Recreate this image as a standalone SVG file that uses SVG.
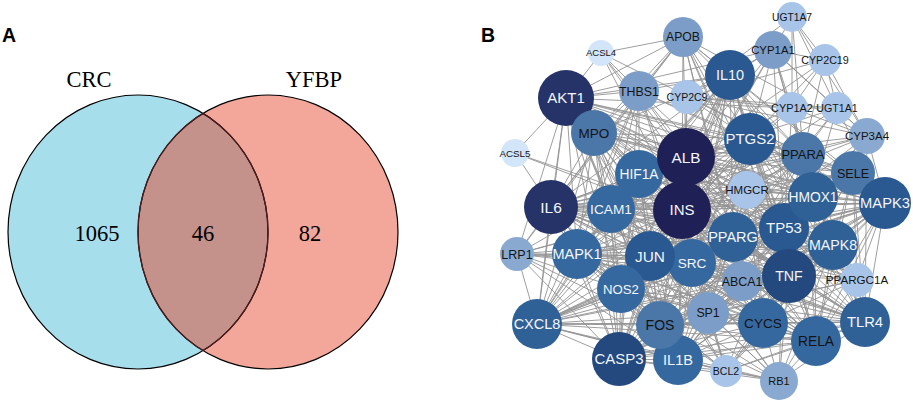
<svg xmlns="http://www.w3.org/2000/svg" width="913" height="401" viewBox="0 0 913 401">
<style>
.lbl{font-family:"Liberation Sans",Arial,sans-serif;font-weight:bold;font-size:19.5px;fill:#000}
.vt{font-family:"Liberation Serif","Times New Roman",serif;font-size:22.5px;fill:#000;text-anchor:middle}
.edges path{fill:none;stroke:#939393;stroke-width:0.9}
.nd text{font-family:"Liberation Sans",Arial,sans-serif;text-anchor:middle}
.n0{fill:#1f2056}.n1{fill:#263368}.n2{fill:#24497f}.n3{fill:#2a5890}.n4{fill:#2f6197}.n5{fill:#3668a0}.n6{fill:#4a76a8}.n7{fill:#7b9dc7}.n8{fill:#89a9d1}.n9{fill:#a8c5e9}.n10{fill:#d3e5f8}
.w{fill:#f3f5f9}.d{fill:#141414}
</style>
<defs>
<clipPath id="clipL"><ellipse cx="138" cy="232" rx="130" ry="137"/></clipPath>
<clipPath id="clipR"><ellipse cx="268" cy="232" rx="130" ry="137"/></clipPath>
</defs>
<rect width="913" height="401" fill="#ffffff"/>
<text class="lbl" x="2" y="42">A</text>
<text class="lbl" x="481" y="42">B</text>
<g id="venn">
<ellipse cx="138" cy="232" rx="130" ry="137" fill="#a7deeb"/>
<ellipse cx="268" cy="232" rx="130" ry="137" fill="#f3a79b"/>
<ellipse cx="268" cy="232" rx="130" ry="137" fill="#c4918b" clip-path="url(#clipL)"/>
<ellipse cx="138" cy="232" rx="130" ry="137" fill="none" stroke="#000" stroke-width="1.2"/>
<ellipse cx="268" cy="232" rx="130" ry="137" fill="none" stroke="#000" stroke-width="1.2"/>
<ellipse cx="138" cy="232" rx="130" ry="137" fill="none" stroke="#4e1c1c" stroke-width="1.3" clip-path="url(#clipR)"/>
<ellipse cx="268" cy="232" rx="130" ry="137" fill="none" stroke="#4e1c1c" stroke-width="1.3" clip-path="url(#clipL)"/>
<text class="vt" x="89" y="87">CRC</text>
<text class="vt" x="314" y="87">YFBP</text>
<text class="vt" x="97" y="241">1065</text>
<text class="vt" x="203" y="241">46</text>
<text class="vt" x="310" y="241">82</text>
</g>
<g id="connectors" class="edges">
<path d="M566 98L686 157M566 98L682 210M566 98L551 207M566 98L789 276M566 98L784 228M566 98L650 256M566 98L885 203M566 98L619 359M566 98L678 360M566 98L750 139M566 98L730 75M566 98L577 254M566 98L692 263M566 98L814 197M566 98L733 237M566 98L537 324M566 98L660 325M566 98L833 245M566 98L621 289M566 98L611 209M566 98L639 174M566 98L816 341M566 98L865 322M566 98L763 323"/>
<path d="M686 157L682 210M686 157L551 207M686 157L789 276M686 157L784 228M686 157L650 256M686 157L885 203M686 157L619 359M686 157L678 360M686 157L750 139M686 157L730 75M686 157L577 254M686 157L692 263M686 157L814 197M686 157L733 237M686 157L537 324M686 157L660 325M686 157L833 245M686 157L621 289M686 157L611 209M686 157L639 174M686 157L816 341M686 157L865 322M686 157L763 323"/>
<path d="M682 210L551 207M682 210L789 276M682 210L784 228M682 210L650 256M682 210L885 203M682 210L619 359M682 210L678 360M682 210L750 139M682 210L730 75M682 210L577 254M682 210L692 263M682 210L814 197M682 210L733 237M682 210L537 324M682 210L660 325M682 210L833 245M682 210L621 289M682 210L611 209M682 210L639 174M682 210L816 341M682 210L865 322M682 210L763 323"/>
<path d="M551 207L789 276M551 207L784 228M551 207L650 256M551 207L885 203M551 207L619 359M551 207L678 360M551 207L750 139M551 207L730 75M551 207L577 254M551 207L692 263M551 207L814 197M551 207L733 237M551 207L537 324M551 207L660 325M551 207L833 245M551 207L621 289M551 207L611 209M551 207L639 174M551 207L816 341M551 207L865 322M551 207L763 323"/>
<path d="M789 276L784 228M789 276L650 256M789 276L885 203M789 276L619 359M789 276L678 360M789 276L750 139M789 276L730 75M789 276L577 254M789 276L692 263M789 276L814 197M789 276L733 237M789 276L537 324M789 276L660 325M789 276L833 245M789 276L621 289M789 276L611 209M789 276L639 174M789 276L816 341M789 276L865 322M789 276L763 323"/>
<path d="M784 228L650 256M784 228L885 203M784 228L619 359M784 228L678 360M784 228L750 139M784 228L730 75M784 228L577 254M784 228L692 263M784 228L814 197M784 228L733 237M784 228L537 324M784 228L660 325M784 228L833 245M784 228L621 289M784 228L611 209M784 228L639 174M784 228L816 341M784 228L865 322M784 228L763 323"/>
<path d="M650 256L885 203M650 256L619 359M650 256L678 360M650 256L750 139M650 256L730 75M650 256L577 254M650 256L692 263M650 256L814 197M650 256L733 237M650 256L537 324M650 256L660 325M650 256L833 245M650 256L621 289M650 256L611 209M650 256L639 174M650 256L816 341M650 256L865 322M650 256L763 323"/>
<path d="M885 203L619 359M885 203L678 360M885 203L750 139M885 203L730 75M885 203L577 254M885 203L692 263M885 203L814 197M885 203L733 237M885 203L537 324M885 203L660 325M885 203L833 245M885 203L621 289M885 203L611 209M885 203L639 174M885 203L816 341M885 203L865 322M885 203L763 323"/>
<path d="M619 359L678 360M619 359L750 139M619 359L730 75M619 359L577 254M619 359L692 263M619 359L814 197M619 359L733 237M619 359L537 324M619 359L660 325M619 359L833 245M619 359L621 289M619 359L611 209M619 359L639 174M619 359L816 341M619 359L865 322M619 359L763 323"/>
<path d="M678 360L750 139M678 360L730 75M678 360L577 254M678 360L692 263M678 360L814 197M678 360L733 237M678 360L537 324M678 360L660 325M678 360L833 245M678 360L621 289M678 360L611 209M678 360L639 174M678 360L816 341M678 360L865 322M678 360L763 323"/>
<path d="M750 139L730 75M750 139L577 254M750 139L692 263M750 139L814 197M750 139L733 237M750 139L537 324M750 139L660 325M750 139L833 245M750 139L621 289M750 139L611 209M750 139L639 174M750 139L816 341M750 139L865 322M750 139L763 323"/>
<path d="M730 75L577 254M730 75L692 263M730 75L814 197M730 75L733 237M730 75L537 324M730 75L660 325M730 75L833 245M730 75L621 289M730 75L611 209M730 75L639 174M730 75L816 341M730 75L865 322M730 75L763 323"/>
<path d="M577 254L692 263M577 254L814 197M577 254L733 237M577 254L537 324M577 254L660 325M577 254L833 245M577 254L621 289M577 254L611 209M577 254L639 174M577 254L816 341M577 254L865 322M577 254L763 323"/>
<path d="M692 263L814 197M692 263L733 237M692 263L537 324M692 263L660 325M692 263L833 245M692 263L621 289M692 263L611 209M692 263L639 174M692 263L816 341M692 263L865 322M692 263L763 323"/>
<path d="M814 197L733 237M814 197L537 324M814 197L660 325M814 197L833 245M814 197L621 289M814 197L611 209M814 197L639 174M814 197L816 341M814 197L865 322M814 197L763 323"/>
<path d="M733 237L537 324M733 237L660 325M733 237L833 245M733 237L621 289M733 237L611 209M733 237L639 174M733 237L816 341M733 237L865 322M733 237L763 323"/>
<path d="M537 324L660 325M537 324L833 245M537 324L621 289M537 324L611 209M537 324L639 174M537 324L816 341M537 324L865 322M537 324L763 323"/>
<path d="M660 325L833 245M660 325L621 289M660 325L611 209M660 325L639 174M660 325L816 341M660 325L865 322M660 325L763 323"/>
<path d="M833 245L621 289M833 245L611 209M833 245L639 174M833 245L816 341M833 245L865 322M833 245L763 323"/>
<path d="M621 289L611 209M621 289L639 174M621 289L816 341M621 289L865 322M621 289L763 323M611 209L639 174M611 209L816 341M611 209L865 322M611 209L763 323M639 174L816 341M639 174L865 322M639 174L763 323M816 341L865 322M816 341L763 323M865 322L763 323"/>
<path d="M792 17L773 50M792 17L825 60M792 17L792 108M792 17L837 108M792 17L867 136M792 17L687 97M792 17L803 154"/>
<path d="M683 37L566 98M683 37L639 91M683 37L686 157M683 37L682 210M683 37L730 75M683 37L803 154M683 37L747 190M683 37L733 237M683 37L742 281M683 37L517 254M683 37L551 207M683 37L789 276M683 37L867 136M683 37L853 173M683 37L594 133M683 37L750 139M683 37L784 228"/>
<path d="M773 50L825 60M773 50L792 108M773 50L837 108M773 50L867 136M773 50L687 97M773 50L686 157M773 50L682 210M773 50L750 139M773 50L784 228M773 50L814 197M773 50L803 154M773 50L730 75M773 50L566 98M773 50L650 256"/>
<path d="M601 53L566 98M601 53L639 91M601 53L686 157M601 53L682 210M601 53L803 154M601 53L683 37M601 53L733 237"/>
<path d="M825 60L792 108M825 60L837 108M825 60L867 136M825 60L687 97M825 60L686 157M825 60L682 210M825 60L803 154"/>
<path d="M687 97L792 108M687 97L837 108M687 97L867 136M687 97L686 157M687 97L682 210M687 97L803 154M687 97L750 139"/>
<path d="M792 108L837 108M792 108L867 136M792 108L686 157M792 108L682 210M792 108L803 154M792 108L814 197M792 108L784 228M792 108L750 139M792 108L566 98"/>
<path d="M837 108L867 136M837 108L686 157M837 108L682 210M837 108L803 154M837 108L733 237M837 108L885 203M837 108L789 276"/>
<path d="M867 136L686 157M867 136L682 210M867 136L803 154M867 136L733 237M867 136L784 228M867 136L814 197M867 136L853 173M867 136L885 203M867 136L865 322M867 136L551 207"/>
<path d="M639 91L566 98M639 91L686 157M639 91L682 210M639 91L551 207M639 91L789 276M639 91L784 228M639 91L611 209M639 91L692 263M639 91L577 254M639 91L537 324M639 91L750 139M639 91L730 75M639 91L885 203M639 91L619 359M639 91L594 133M639 91L639 174"/>
<path d="M594 133L686 157M594 133L682 210M594 133L551 207M594 133L789 276M594 133L678 360M594 133L537 324M594 133L566 98M594 133L621 289M594 133L814 197M594 133L750 139M594 133L611 209M594 133L577 254M594 133L650 256M594 133L619 359M594 133L730 75M594 133L853 173M594 133L784 228M594 133L885 203"/>
<path d="M515 153L566 98M515 153L551 207M515 153L682 210M515 153L733 237"/>
<path d="M803 154L686 157M803 154L682 210M803 154L733 237M803 154L750 139M803 154L814 197M803 154L789 276M803 154L551 207M803 154L853 173M803 154L784 228M803 154L566 98M803 154L885 203M803 154L730 75M803 154L650 256M803 154L611 209M803 154L833 245M803 154L621 289M803 154L678 360M803 154L857 280M803 154L742 281M803 154L747 190M803 154L816 341M803 154L865 322M803 154L692 263"/>
<path d="M853 173L611 209M853 173L789 276M853 173L551 207M853 173L678 360M853 173L537 324M853 173L816 341M853 173L885 203M853 173L814 197M853 173L784 228M853 173L686 157M853 173L682 210M853 173L566 98M853 173L750 139M853 173L621 289M853 173L865 322M853 173L833 245M853 173L733 237M853 173L763 323M853 173L650 256"/>
<path d="M747 190L686 157M747 190L682 210M747 190L733 237M747 190L742 281M747 190L784 228M747 190L566 98M747 190L814 197M747 190L551 207M747 190L789 276M747 190L692 263M747 190L885 203M747 190L517 254M747 190L708 313"/>
<path d="M517 254L551 207M517 254L577 254M517 254L686 157M517 254L682 210M517 254L537 324M517 254L789 276M517 254L650 256M517 254L742 281M517 254L733 237M517 254L692 263M517 254L566 98M517 254L619 359M517 254L660 325M517 254L621 289M517 254L678 360"/>
<path d="M742 281L733 237M742 281L686 157M742 281L682 210M742 281L551 207M742 281L789 276M742 281L708 313M742 281L678 360M742 281L865 322M742 281L763 323M742 281L650 256M742 281L833 245M742 281L816 341M742 281L566 98M742 281L814 197M742 281L619 359M742 281L537 324"/>
<path d="M857 280L733 237M857 280L682 210M857 280L686 157M857 280L885 203M857 280L833 245M857 280L789 276M857 280L784 228M857 280L865 322M857 280L763 323M857 280L566 98M857 280L814 197M857 280L708 313M857 280L816 341M857 280L551 207M857 280L660 325M857 280L853 173M857 280L650 256"/>
<path d="M708 313L566 98M708 313L686 157M708 313L682 210M708 313L551 207M708 313L789 276M708 313L784 228M708 313L650 256M708 313L885 203M708 313L619 359M708 313L678 360M708 313L750 139M708 313L577 254M708 313L692 263M708 313L814 197M708 313L733 237M708 313L537 324M708 313L660 325M708 313L833 245M708 313L621 289M708 313L611 209M708 313L639 174M708 313L816 341M708 313L865 322M708 313L763 323M708 313L726 371M708 313L779 381"/>
<path d="M726 371L619 359M726 371L678 360M726 371L763 323M726 371L816 341M726 371L784 228M726 371L566 98M726 371L650 256M726 371L660 325M726 371L789 276M726 371L833 245M726 371L537 324M726 371L577 254M726 371L621 289M726 371L885 203M726 371L865 322M726 371L779 381M726 371L692 263M726 371L682 210"/>
<path d="M779 381L784 228M779 381L650 256M779 381L660 325M779 381L763 323M779 381L816 341M779 381L577 254M779 381L537 324M779 381L789 276M779 381L885 203M779 381L619 359M779 381L678 360M779 381L566 98M779 381L865 322M779 381L833 245M779 381L692 263"/>
</g>
<g id="nodes" class="nd">
<g id="node-ACSL4"><circle class="n10" cx="601" cy="53" r="13"/><text class="d" x="601" y="56.4" font-size="9.5">ACSL4</text></g>
<g id="node-ACSL5"><circle class="n10" cx="515" cy="153" r="14"/><text class="d" x="515" y="156.5" font-size="9.8">ACSL5</text></g>
<g id="node-UGT1A7"><circle class="n9" cx="792" cy="17" r="15"/><text class="d" x="792" y="20.7" font-size="10.3">UGT1A7</text></g>
<g id="node-APOB"><circle class="n7" cx="683" cy="37" r="20"/><text class="d" x="683" y="41.4" font-size="12.2">APOB</text></g>
<g id="node-CYP1A1"><circle class="n7" cx="773" cy="50" r="19"/><text class="d" x="773" y="54.1" font-size="11.4">CYP1A1</text></g>
<g id="node-CYP2C19"><circle class="n9" cx="825" cy="60" r="16"/><text class="d" x="825" y="63.9" font-size="10.7">CYP2C19</text></g>
<g id="node-IL10"><circle class="n3" cx="730" cy="75" r="25"/><text class="w" x="730" y="80.2" font-size="14.5">IL10</text></g>
<g id="node-THBS1"><circle class="n7" cx="639" cy="91" r="20"/><text class="d" x="639" y="95.5" font-size="12.4">THBS1</text></g>
<g id="node-CYP2C9"><circle class="n9" cx="687" cy="97" r="17"/><text class="d" x="687" y="100.8" font-size="10.5">CYP2C9</text></g>
<g id="node-CYP1A2"><circle class="n9" cx="792" cy="108" r="16"/><text class="d" x="792" y="111.9" font-size="10.9">CYP1A2</text></g>
<g id="node-UGT1A1"><circle class="n9" cx="837" cy="108" r="16"/><text class="d" x="837" y="111.9" font-size="10.7">UGT1A1</text></g>
<g id="node-AKT1"><circle class="n1" cx="566" cy="98" r="28"/><text class="w" x="566" y="103.4" font-size="15">AKT1</text></g>
<g id="node-MPO"><circle class="n6" cx="594" cy="133" r="23"/><text class="d" x="594" y="137.9" font-size="13.5">MPO</text></g>
<g id="node-CYP3A4"><circle class="n8" cx="867" cy="136" r="18"/><text class="d" x="867" y="140.1" font-size="11.5">CYP3A4</text></g>
<g id="node-PTGS2"><circle class="n3" cx="750" cy="139" r="26"/><text class="w" x="750" y="144.4" font-size="15">PTGS2</text></g>
<g id="node-PPARA"><circle class="n6" cx="803" cy="154" r="22"/><text class="d" x="803" y="158.7" font-size="13">PPARA</text></g>
<g id="node-SELE"><circle class="n6" cx="853" cy="173" r="22"/><text class="d" x="853" y="177.5" font-size="12.6">SELE</text></g>
<g id="node-ICAM1"><circle class="n5" cx="611" cy="209" r="24"/><text class="w" x="611" y="213.9" font-size="13.7">ICAM1</text></g>
<g id="node-HIF1A"><circle class="n5" cx="639" cy="174" r="24"/><text class="w" x="639" y="179" font-size="13.8">HIF1A</text></g>
<g id="node-ALB"><circle class="n0" cx="686" cy="157" r="29"/><text class="w" x="686" y="162.5" font-size="15.3">ALB</text></g>
<g id="node-HMGCR"><circle class="n9" cx="747" cy="190" r="19"/><text class="d" x="747" y="194.1" font-size="11.5">HMGCR</text></g>
<g id="node-TP53"><circle class="n3" cx="784" cy="228" r="25"/><text class="w" x="784" y="233.4" font-size="15">TP53</text></g>
<g id="node-HMOX1"><circle class="n4" cx="813" cy="197" r="25"/><text class="w" x="813" y="202" font-size="13.8">HMOX1</text></g>
<g id="node-MAPK3"><circle class="n3" cx="885" cy="203" r="26"/><text class="w" x="885" y="208.3" font-size="14.7">MAPK3</text></g>
<g id="node-IL6"><circle class="n1" cx="551" cy="207" r="27"/><text class="w" x="551" y="212.6" font-size="15.5">IL6</text></g>
<g id="node-INS"><circle class="n0" cx="682" cy="210" r="29"/><text class="w" x="682" y="215.4" font-size="15">INS</text></g>
<g id="node-PPARG"><circle class="n4" cx="733" cy="237" r="25"/><text class="w" x="733" y="242.2" font-size="14.5">PPARG</text></g>
<g id="node-MAPK8"><circle class="n4" cx="833" cy="245" r="25"/><text class="w" x="833" y="250.1" font-size="14.2">MAPK8</text></g>
<g id="node-LRP1"><circle class="n8" cx="517" cy="254" r="17"/><text class="d" x="517" y="258.5" font-size="12.5">LRP1</text></g>
<g id="node-MAPK1"><circle class="n5" cx="577" cy="254" r="25"/><text class="w" x="577" y="259.2" font-size="14.5">MAPK1</text></g>
<g id="node-SRC"><circle class="n5" cx="692" cy="263" r="24"/><text class="w" x="692" y="267.9" font-size="13.6">SRC</text></g>
<g id="node-JUN"><circle class="n3" cx="650" cy="256" r="25"/><text class="w" x="650" y="261.5" font-size="15.4">JUN</text></g>
<g id="node-NOS2"><circle class="n5" cx="621" cy="289" r="24"/><text class="w" x="621" y="293.8" font-size="13.2">NOS2</text></g>
<g id="node-ABCA1"><circle class="n7" cx="742" cy="281" r="20"/><text class="d" x="742" y="285.5" font-size="12.4">ABCA1</text></g>
<g id="node-TNF"><circle class="n2" cx="789" cy="276" r="27"/><text class="w" x="789" y="281.1" font-size="14.2">TNF</text></g>
<g id="node-PPARGC1A"><circle class="n9" cx="857" cy="280" r="17"/><text class="d" x="857" y="284.2" font-size="11.6">PPARGC1A</text></g>
<g id="node-SP1"><circle class="n7" cx="708" cy="313" r="21"/><text class="d" x="708" y="317.4" font-size="12.3">SP1</text></g>
<g id="node-CXCL8"><circle class="n4" cx="537" cy="324" r="25"/><text class="w" x="537" y="329.2" font-size="14.5">CXCL8</text></g>
<g id="node-CYCS"><circle class="n5" cx="763" cy="323" r="25"/><text class="d" x="763" y="327.9" font-size="13.6">CYCS</text></g>
<g id="node-TLR4"><circle class="n4" cx="865" cy="322" r="25"/><text class="w" x="865" y="327.3" font-size="14.8">TLR4</text></g>
<g id="node-RELA"><circle class="n5" cx="816" cy="341" r="25"/><text class="d" x="816" y="346" font-size="13.8">RELA</text></g>
<g id="node-CASP3"><circle class="n2" cx="619" cy="359" r="27"/><text class="w" x="619" y="364.4" font-size="15">CASP3</text></g>
<g id="node-IL1B"><circle class="n5" cx="678" cy="360" r="25"/><text class="w" x="678" y="365.3" font-size="14.6">IL1B</text></g>
<g id="node-FOS"><circle class="n6" cx="660" cy="325" r="24"/><text class="d" x="660" y="330" font-size="14">FOS</text></g>
<g id="node-BCL2"><circle class="n9" cx="726" cy="371" r="16"/><text class="d" x="726" y="374.8" font-size="10.5">BCL2</text></g>
<g id="node-RB1"><circle class="n8" cx="779" cy="381" r="19"/><text class="d" x="779" y="385" font-size="11">RB1</text></g>
</g>
</svg>
